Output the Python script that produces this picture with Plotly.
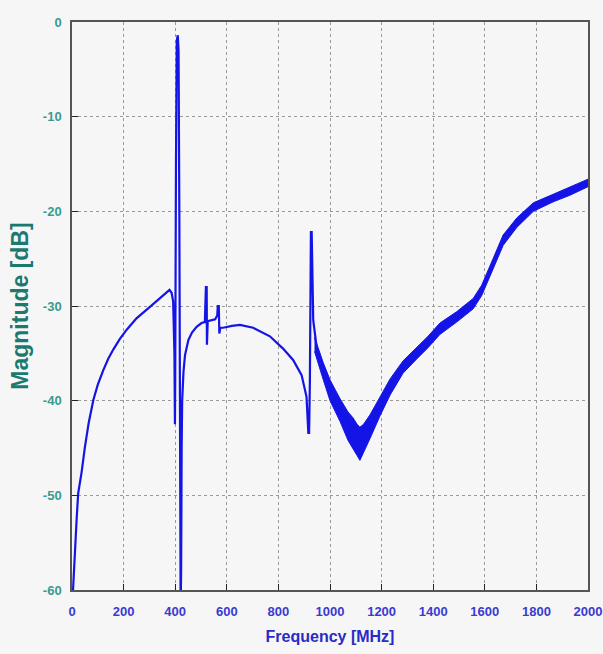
import plotly.graph_objects as go

# Main response curve (frequency in MHz, magnitude in dB)
freq_mhz = [4, 8, 12, 18, 24, 37, 50, 65, 83, 100, 121, 140, 160, 185, 212, 250, 302, 340, 367, 378,
            386, 392, 397, 399, 400, 403, 406, 410, 413, 416, 419, 421, 423, 425, 427, 432, 438, 451, 465,
            483, 502, 515, 519, 522, 523, 526, 541, 555, 563, 565, 569, 571, 575, 586, 620, 651, 702, 767,
            818, 857, 890, 909, 916, 919, 922, 926, 929, 931, 935, 948, 974, 1000, 1039, 1089, 1116, 1155,
            1194, 1233, 1283, 1336, 1380, 1426, 1491, 1555, 1588, 1632, 1671, 1724, 1770, 1788, 1800, 1865,
            1930, 2000]
magnitude_db = [-60, -57.5, -55.8, -52.5, -49.8, -47.6, -44.9, -42.3, -39.9, -38.3, -36.8, -35.6, -34.6,
                -33.5, -32.5, -31.3, -30.1, -29.2, -28.5, -28.3, -28.6, -29.5, -35, -42.5, -38, -15, -2,
                -1.4, -3, -20, -45, -62, -58, -45, -40, -37, -35.2, -33.6, -32.8, -32.2, -31.8, -31.7, -28,
                -28, -34.1, -31.6, -31.5, -31.4, -31, -30, -30, -32.9, -32.3, -32.3, -32.1, -32.0, -32.3,
                -33.2, -34.5, -35.7, -37.3, -39.6, -43.4, -43.4, -38, -22.2, -22.2, -28, -31.5, -34.3,
                -36.8, -38.9, -41, -43.1, -44.5, -42.7, -40.6, -38.5, -36.4, -35, -33.8, -32.3, -31.1,
                -29.7, -28.3, -25.5, -23, -21.1, -19.8, -19.5, -19.3, -18.6, -17.8, -17]

# Noise envelope of the measured trace (upper / lower edges)
band_freq = [940, 974, 1000, 1039, 1070, 1089, 1105, 1116, 1130, 1155, 1194, 1233, 1283, 1336, 1380,
             1426, 1491, 1555, 1588, 1632, 1671, 1724, 1788, 1865, 1930, 2000]
band_upper = [-33.3, -36.0, -37.8, -39.8, -41.2, -41.8, -42.5, -42.8, -42.5, -41.5, -39.6, -37.7, -35.8,
              -34.4, -33.2, -31.8, -30.6, -29.2, -27.8, -25.0, -22.5, -20.7, -19.1, -18.2, -17.4, -16.6]
band_lower = [-34.8, -37.8, -40.0, -42.2, -44.2, -45.0, -45.8, -46.3, -45.6, -44.0, -41.6, -39.4, -37.1,
              -35.6, -34.4, -33.0, -31.7, -30.3, -28.9, -26.1, -23.6, -21.7, -20.0, -19.0, -18.3, -17.4]

x_ticks = list(range(0, 2001, 200))
y_ticks = list(range(-60, 1, 10))

blue = "#1414e6"
bg = "#f6f6f6"

fig = go.Figure()
fig.add_trace(go.Scatter(
    x=band_freq + band_freq[::-1], y=band_upper + band_lower[::-1],
    fill="toself", fillcolor=blue, mode="lines", line=dict(color=blue, width=1),
    hoverinfo="skip", showlegend=False))
fig.add_trace(go.Scatter(
    x=freq_mhz, y=magnitude_db, mode="lines", line=dict(color=blue, width=2.2),
    showlegend=False))

grid = dict(showgrid=True, gridcolor="#9a9a9a", griddash="dot", gridwidth=1,
            showline=True, linecolor="#555555", linewidth=1.5, mirror=True,
            ticks="inside", ticklen=6, tickcolor="#222222", zeroline=False, automargin=False,
            ticklabeloverflow="allow")

fig.update_xaxes(range=[0, 2000], tickvals=x_ticks, ticktext=[str(v) for v in x_ticks],
                 tickfont=dict(family="Arial", size=13, color="#3a3ad0", weight="bold"),
                 ticklabelstandoff=9,
                 title=dict(text="<b>Frequency [MHz]</b>", standoff=12,
                            font=dict(family="Arial", size=16, color="#2a2ac4")),
                 **grid)
fig.update_yaxes(range=[-60, 0], tickvals=y_ticks, ticktext=[str(v) for v in y_ticks],
                 tickfont=dict(family="Arial", size=13, color="#3a9a90", weight="bold"),
                 ticklabelstandoff=6,
                 title=dict(text="<b>Magnitude [dB]</b>", standoff=8,
                            font=dict(family="Arial", size=23, color="#1a7a70")),
                 **grid)

fig.update_layout(width=603, height=654,
                  margin=dict(l=72, r=15, t=22, b=64),
                  paper_bgcolor=bg, plot_bgcolor=bg)

fig.write_html("out.html", config={"displayModeBar": False},
               post_script="document.body.style.margin='0';document.body.style.overflow='hidden';"
                           "document.body.style.background='#f6f6f6';")
